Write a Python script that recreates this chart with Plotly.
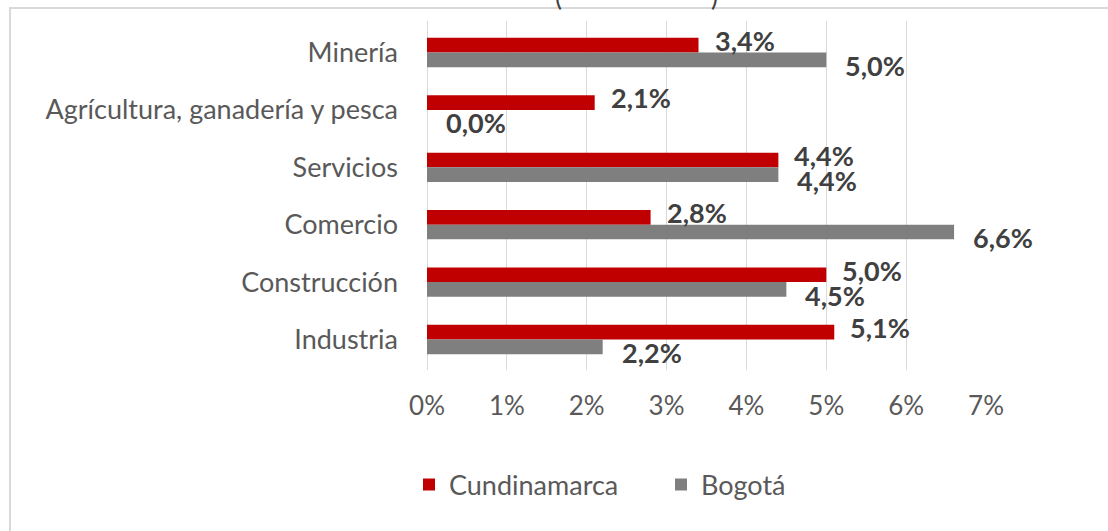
import plotly.graph_objects as go

categories = ["Minería", "Agrícultura, ganadería y pesca", "Servicios", "Comercio", "Construcción", "Industria"]
cundinamarca = [3.4, 2.1, 4.4, 2.8, 5.0, 5.1]
bogota = [5.0, 0.0, 4.4, 6.6, 4.5, 2.2]
series_names = ["Cundinamarca", "Bogotá"]
x_ticks = [0, 1, 2, 3, 4, 5, 6, 7]
x_tick_labels = ["0%", "1%", "2%", "3%", "4%", "5%", "6%", "7%"]

RED = "#C00000"
GRAY = "#7F7F7F"
FONT = "Lato"

W, H = 1108, 531
L, R, T, B = 427, 122, 21, 161
pw, ph = W - L - R, H - T - B


def px_x(p):
    return (p - L) / pw


def px_y(p):
    return (H - B - p) / ph


def fmt(v):
    return f"{v:.1f}%".replace(".", ",")


fig = go.Figure()
fig.add_trace(go.Bar(y=categories, x=cundinamarca, name=series_names[0], orientation="h",
                     marker=dict(color=RED, line=dict(width=0))))
fig.add_trace(go.Bar(y=categories, x=bogota, name=series_names[1], orientation="h",
                     marker=dict(color=GRAY, line=dict(width=0))))

annotations = []
for vals, ysh, xsh in ((cundinamarca, 12, 14), (bogota, -13, 17)):
    for c, v in zip(categories, vals):
        annotations.append(dict(x=v, y=c, xref="x", yref="y", text=fmt(v), showarrow=False,
                                xanchor="left", yanchor="middle", xshift=xsh, yshift=ysh,
                                font=dict(family=FONT, size=27, color="#404040", weight="bold")))

# cut-off title remnants
for ch, xp in (("(", 558), (")", 714)):
    annotations.append(dict(x=px_x(xp), y=px_y(-4), xref="paper", yref="paper", text=ch,
                            showarrow=False, xanchor="center", yanchor="middle",
                            font=dict(family=FONT, size=26, color="#404040")))

fig.update_layout(
    width=W, height=H,
    margin=dict(l=L, r=R, t=T, b=B, pad=0),
    paper_bgcolor="white", plot_bgcolor="white",
    barmode="group", bargap=0.49, bargroupgap=0,
    font=dict(family=FONT, color="#595959"),
    showlegend=True,
    legend=dict(orientation="h", x=px_x(409), y=px_y(485), xanchor="left", yanchor="middle",
                font=dict(family=FONT, size=27, color="#595959"), itemwidth=30,
                entrywidth=207, bgcolor="rgba(0,0,0,0)"),
    xaxis=dict(range=[0, 7], tickvals=x_ticks, ticktext=x_tick_labels, showgrid=True,
               gridcolor="#D9D9D9", gridwidth=1, zeroline=True, zerolinecolor="#D9D9D9",
               zerolinewidth=1, showline=False, ticks="", ticklabelstandoff=18,
               tickfont=dict(family=FONT, size=26, color="#595959"), fixedrange=True),
    yaxis=dict(autorange="reversed", showgrid=False, zeroline=False, showline=False, ticks="",
               ticklabelstandoff=28, tickfont=dict(family=FONT, size=27, color="#595959"),
               fixedrange=True),
    annotations=annotations,
    shapes=[dict(type="rect", xref="paper", yref="paper", x0=px_x(10), x1=px_x(1120),
                 y0=px_y(560), y1=px_y(8), line=dict(color="#D9D9D9", width=2),
                 fillcolor="rgba(0,0,0,0)", layer="below")],
)

fig.write_html("out.html", config={"displayModeBar": False},
               post_script="document.body.style.margin='0px';document.body.style.overflow='hidden';")
